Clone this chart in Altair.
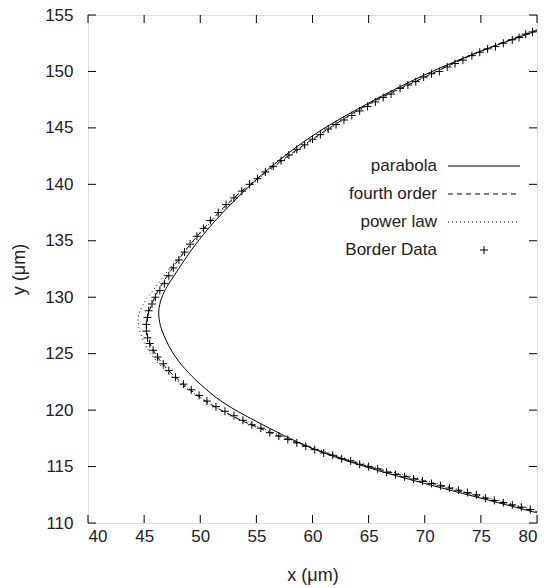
import altair as alt
import pandas as pd

# ---- data ----
# parabola fit (solid)
para_x = [80.0, 75.0, 70.0, 65.0, 60.0, 56.0, 53.0, 51.0, 49.6, 48.6, 47.6, 46.9, 46.45, 46.3,
          46.45, 46.9, 47.6, 48.6, 50.0, 52.0, 55.0, 60.0, 65.0, 70.0, 75.0, 80.0]
para_y = [153.6, 151.8, 149.7, 147.2, 144.3, 141.3, 138.5, 136.4, 134.7, 133.3, 131.8, 130.7, 129.6, 128.6,
          127.5, 126.3, 125.0, 123.7, 122.3, 120.7, 119.0, 116.6, 114.9, 113.5, 112.2, 110.9]

# fourth order fit (dashed)
four_x = [80.0, 75.0, 70.0, 65.0, 60.0, 56.0, 53.0, 50.5, 48.5, 47.0, 46.0, 45.4, 45.2,
          45.4, 46.0, 47.0, 48.5, 50.5, 53.0, 56.0, 60.0, 65.0, 70.0, 75.0, 80.0]
four_y = [153.7, 151.8, 149.5, 147.1, 144.0, 141.2, 138.8, 136.3, 133.9, 131.8, 130.1, 128.6, 127.4,
          126.2, 125.0, 123.7, 122.3, 120.8, 119.4, 118.1, 116.6, 115.0, 113.7, 112.3, 111.0]

# power law fit (dotted)
pow_x = [80.0, 75.0, 70.0, 65.0, 60.0, 56.0, 53.0, 50.5, 48.5, 47.0, 45.8, 45.0, 44.5,
         44.5, 44.9, 45.6, 46.6, 48.2, 50.3, 53.0, 56.0, 60.0, 65.0, 70.0, 75.0, 80.0]
pow_y = [153.6, 151.8, 149.5, 147.0, 143.9, 141.1, 138.7, 136.2, 134.0, 132.2, 130.6, 129.5, 128.4,
         127.5, 126.2, 125.0, 123.8, 122.4, 120.9, 119.4, 118.2, 116.7, 115.1, 113.8, 112.4, 111.1]

# border data (crosses)
data_x = [79.6, 79.0, 78.4, 77.8, 77.0, 76.3, 75.6, 74.9, 74.2, 73.4, 72.7, 72.0, 71.3, 70.6,
          69.9, 69.2, 68.5, 67.8, 67.0, 66.3, 65.6, 64.9, 64.2, 63.5, 62.8, 62.1, 61.4, 60.7,
          60.0, 59.3, 58.6, 57.9, 57.2, 56.5, 55.8, 55.1, 54.4, 53.7, 53.0, 52.3, 51.6, 50.9,
          50.3, 49.7, 49.1, 48.6, 48.1, 47.6, 47.2, 46.8, 46.4, 46.0, 45.7, 45.4, 45.3, 45.2,
          45.2, 45.3, 45.5, 45.8, 46.2, 46.7, 47.2, 47.8, 48.5, 49.2, 49.9, 50.6, 51.4, 52.2,
          53.0, 53.8, 54.6, 55.4, 56.2, 57.0, 57.8, 58.6, 59.4, 60.2, 61.0, 61.8, 62.6, 63.4,
          64.2, 65.0, 65.8, 66.6, 67.4, 68.2, 69.0, 69.8, 70.6, 71.4, 72.2, 73.0, 73.8, 74.6,
          75.4, 76.2, 77.0, 77.8, 78.6, 79.4]
data_y = [153.5, 153.3, 153.0, 152.8, 152.5, 152.2, 152.0, 151.7, 151.4, 151.0, 150.7, 150.4, 150.0, 149.8,
          149.5, 149.1, 148.8, 148.5, 148.0, 147.7, 147.3, 146.9, 146.5, 146.1, 145.7, 145.3, 144.9, 144.4,
          144.0, 143.5, 143.1, 142.6, 142.1, 141.6, 141.1, 140.5, 140.0, 139.4, 138.8, 138.2, 137.5, 136.8,
          136.1, 135.4, 134.7, 134.0, 133.3, 132.6, 131.9, 131.2, 130.6, 130.0, 129.4, 128.8, 128.2, 127.6,
          127.0, 126.4, 125.9, 125.3, 124.7, 124.1, 123.5, 122.9, 122.3, 121.8, 121.3, 120.8, 120.3, 119.9,
          119.5, 119.1, 118.7, 118.4, 118.0, 117.7, 117.4, 117.1, 116.8, 116.5, 116.2, 116.0, 115.7, 115.5,
          115.2, 115.0, 114.8, 114.5, 114.3, 114.1, 113.9, 113.7, 113.5, 113.3, 113.1, 112.9, 112.7, 112.5,
          112.2, 112.0, 111.8, 111.6, 111.4, 111.2]

x_ticks = [40, 45, 50, 55, 60, 65, 70, 75, 80]
y_ticks = [110, 115, 120, 125, 130, 135, 140, 145, 150, 155]
legend_labels = ["parabola", "fourth order", "power law", "Border Data"]

W, H = 449, 508
FONT = "Liberation Sans"
FS = 17

xs = alt.Scale(domain=[40, 80], nice=False, zero=False)
ys = alt.Scale(domain=[110, 155], nice=False, zero=False)


def curve_df(xv, yv):
    return pd.DataFrame({"x": xv, "y": yv, "o": list(range(len(xv)))})


xaxis = alt.Axis(values=x_ticks, title="x (μm)", grid=False, domain=False, ticks=False,
                 labelFontSize=FS, titleFontSize=FS + 1, labelFont=FONT, titleFont=FONT,
                 labelPadding=5, titlePadding=22, labelColor="#222", titleColor="#222",
                 titleFontWeight="normal")
yaxis = alt.Axis(values=y_ticks, title="y (μm)", grid=False, domain=False, ticks=False,
                 labelFontSize=FS, titleFontSize=FS + 1, labelFont=FONT, titleFont=FONT,
                 labelPadding=15, titlePadding=16, labelColor="#222", titleColor="#222",
                 titleFontWeight="normal")


def line_layer(xv, yv, dash=None, width=1.0):
    kw = dict(color="black", strokeWidth=width, clip=True, interpolate="catmull-rom")
    if dash:
        kw["strokeDash"] = dash
    return alt.Chart(curve_df(xv, yv)).mark_line(**kw).encode(
        x=alt.X("x:Q", scale=xs, axis=xaxis),
        y=alt.Y("y:Q", scale=ys, axis=yaxis),
        order="o:Q",
    )


para = line_layer(para_x, para_y)
four = line_layer(four_x, four_y, dash=[5, 4])
powl = line_layer(pow_x, pow_y, dash=[1, 3])

CROSS = "M-1,0L1,0M0,-1L0,1"
PT_SIZE = 64
pts = alt.Chart(pd.DataFrame({"x": data_x, "y": data_y})).mark_point(
    shape=CROSS, filled=False, color="black", strokeWidth=1, size=PT_SIZE, opacity=1, clip=True
).encode(x=alt.X("x:Q", scale=xs, axis=xaxis), y=alt.Y("y:Q", scale=ys, axis=yaxis))

# inward ticks on all four sides
TL = 8
xt = pd.DataFrame({"x": x_ticks})
yt = pd.DataFrame({"y": y_ticks})
tick_bottom = alt.Chart(xt).mark_rule(color="black", strokeWidth=1).encode(
    x=alt.X("x:Q", scale=xs, axis=xaxis), y=alt.value(H), y2=alt.value(H - TL))
tick_top = alt.Chart(xt).mark_rule(color="black", strokeWidth=1).encode(
    x=alt.X("x:Q", scale=xs, axis=xaxis), y=alt.value(0), y2=alt.value(TL))
tick_left = alt.Chart(yt).mark_rule(color="black", strokeWidth=1).encode(
    y=alt.Y("y:Q", scale=ys, axis=yaxis), x=alt.value(0), x2=alt.value(TL))
tick_right = alt.Chart(yt).mark_rule(color="black", strokeWidth=1).encode(
    y=alt.Y("y:Q", scale=ys, axis=yaxis), x=alt.value(W), x2=alt.value(W - TL))

# legend (label on the left, sample on the right)
LX_TEXT = 349
LX0, LX1 = 360, 432
ROW0, DROW = 151, 28
leg_layers = []
styles = [None, [5, 4], [1, 3], "pt"]
for i, (lab, st) in enumerate(zip(legend_labels, styles)):
    ry = ROW0 + i * DROW
    leg_layers.append(
        alt.Chart(pd.DataFrame({"t": [lab]})).mark_text(
            align="right", baseline="middle", font=FONT, fontSize=FS, color="#222"
        ).encode(text="t:N", x=alt.value(LX_TEXT), y=alt.value(ry))
    )
    if st == "pt":
        leg_layers.append(
            alt.Chart(pd.DataFrame({"t": [lab]})).mark_point(
                shape=CROSS, filled=False, color="black", strokeWidth=1, size=PT_SIZE, opacity=1
            ).encode(x=alt.value((LX0 + LX1) / 2), y=alt.value(ry))
        )
    else:
        kw = dict(color="black", strokeWidth=1)
        if st:
            kw["strokeDash"] = st
        leg_layers.append(
            alt.Chart(pd.DataFrame({"t": [lab]})).mark_rule(**kw).encode(
                x=alt.value(LX0), x2=alt.value(LX1), y=alt.value(ry))
        )

chart = alt.layer(
    para, four, powl, pts, tick_bottom, tick_top, tick_left, tick_right, *leg_layers
).properties(
    width=W, height=H,
    autosize=alt.AutoSizeParams(type="none"),
    padding={"left": 88, "top": 15, "right": 18, "bottom": 65},
).configure_view(stroke="black", strokeWidth=1.2).configure(background="white")

chart.save("out.html", embed_options={"renderer": "svg", "actions": False})
